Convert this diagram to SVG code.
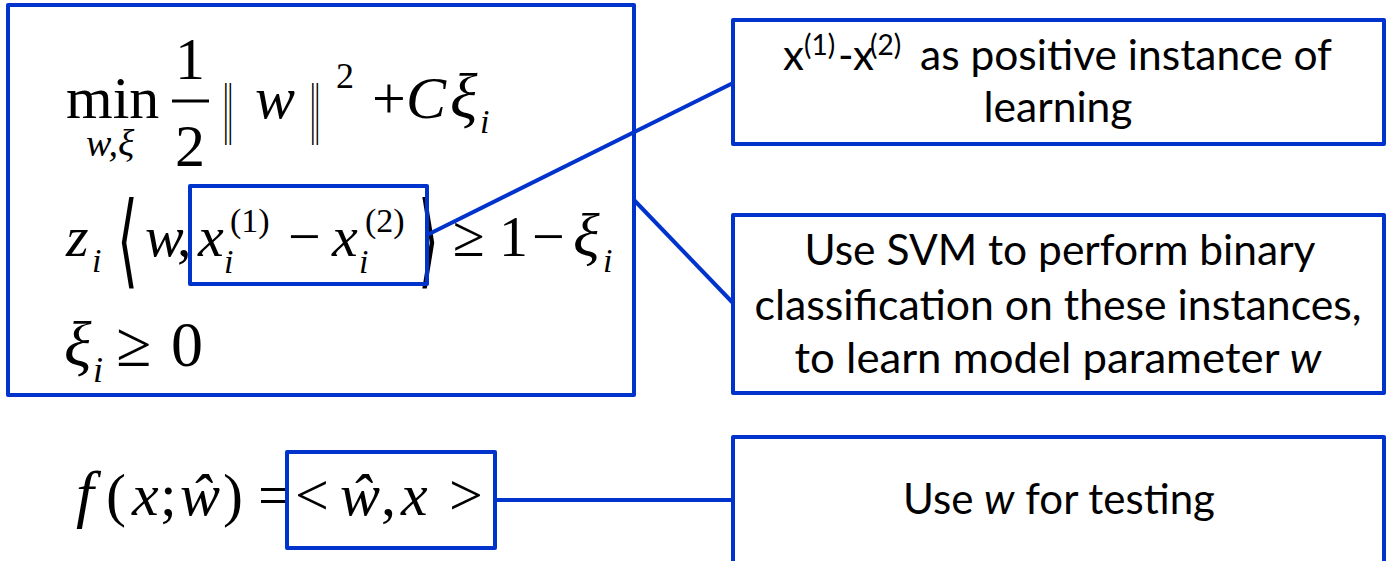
<svg xmlns="http://www.w3.org/2000/svg" width="1386" height="561" viewBox="0 0 1386 561">
  <style>
    .box { fill: none; stroke: #0033cc; stroke-width: 4; stroke-linejoin: round; }
    .link { fill: none; stroke: #0033cc; stroke-width: 4; }
    .mi { font-family: "Liberation Serif", "DejaVu Serif", serif; font-style: italic; fill: #000; }
    .mr { font-family: "Liberation Serif", "DejaVu Serif", serif; fill: #000; }
    .br { font-family: "DejaVu Sans ExtraLight", "DejaVu Sans", sans-serif; fill: #000; }
    .lbl { font-family: Lato, "Open Sans", "Liberation Sans", sans-serif; font-size: 42px; fill: #000; text-anchor: middle; }
    .lbl-s { font-family: Lato, "Open Sans", "Liberation Sans", sans-serif; font-size: 42px; fill: #000; text-anchor: start; }
  </style>

  <!-- optimisation problem -->
  <g id="svm-problem">
    <rect class="box" x="8" y="5" width="626" height="390"/>
    <!-- objective -->
    <g font-size="60">
      <text class="mr" x="66" y="118">min</text>
      <text class="mi" x="86" y="156" font-size="38">w,ξ</text>
      <text class="mr" x="190" y="79" text-anchor="middle">1</text>
      <line x1="172" y1="101" x2="209" y2="101" stroke="#000" stroke-width="3"/>
      <text class="mr" x="190" y="166" text-anchor="middle">2</text>
      <!-- norm bars, narrowed so the pair reads as a double bar -->
      <text class="mr" transform="translate(223 131) scale(0.5 1.2)" font-size="56" letter-spacing="-2">||</text>
      <text class="mi" x="255" y="118">w</text>
      <text class="mr" transform="translate(310 131) scale(0.5 1.2)" font-size="56" letter-spacing="-2">||</text>
      <text class="mr" x="336" y="88" font-size="36">2</text>
      <text class="mr" x="372" y="118">+</text>
      <text class="mi" x="406" y="118">C</text>
      <text class="mi" x="450" y="118" font-size="64">ξ</text>
      <text class="mi" x="480" y="133" font-size="34">i</text>
    </g>
    <!-- margin constraint -->
    <g font-size="58">
      <text class="mi" x="66" y="256">z</text>
      <text class="mi" x="92" y="272" font-size="34">i</text>
      <text class="br" transform="translate(117 275) scale(1 1.9)" font-size="54">⟨</text>
      <text class="mi" x="145" y="256">w</text>
      <text class="mr" x="177" y="256">,</text>
      <text class="mi" x="198" y="256">x</text>
      <text class="mr" x="230" y="232" font-size="34">(1)</text>
      <text class="mi" x="224" y="273" font-size="34">i</text>
      <text class="mr" x="288" y="256">−</text>
      <text class="mi" x="332" y="256">x</text>
      <text class="mr" x="365" y="232" font-size="34">(2)</text>
      <text class="mi" x="359" y="273" font-size="34">i</text>
      <text class="br" transform="translate(418 275) scale(1 1.9)" font-size="54">⟩</text>
      <text class="mr" x="453" y="256">≥</text>
      <text class="mr" x="499" y="256">1</text>
      <text class="mr" x="532" y="256">−</text>
      <text class="mi" x="573" y="256" font-size="62">ξ</text>
      <text class="mi" x="603" y="272" font-size="34">i</text>
    </g>
    <!-- slack constraint -->
    <g font-size="64">
      <text class="mi" x="64" y="366">ξ</text>
      <text class="mi" x="93" y="382" font-size="36">i</text>
      <text class="mr" x="116" y="366">≥</text>
      <text class="mr" x="171" y="366">0</text>
    </g>
    <!-- highlighted difference vector -->
    <rect class="box" x="190" y="186" width="237" height="98"/>
  </g>

  <!-- decision function -->
  <g id="decision-function" font-size="60">
    <text class="mi" x="76" y="515" font-size="64">f</text>
    <text class="mr" x="106" y="515">(</text>
    <text class="mi" x="132" y="515">x</text>
    <text class="mr" x="160" y="515">;</text>
    <text class="mi" x="180" y="515">ŵ</text>
    <text class="mr" x="223" y="515">)</text>
    <text class="mr" x="258" y="515">=</text>
    <text class="mr" x="295" y="515">&lt;</text>
    <text class="mi" x="340" y="515">ŵ</text>
    <text class="mr" x="381" y="515">,</text>
    <text class="mi" x="401" y="515">x</text>
    <text class="mr" x="449" y="515">&gt;</text>
    <rect class="box" x="287" y="452" width="208" height="96"/>
  </g>

  <!-- explanation boxes -->
  <g id="positive-instance">
    <rect class="box" x="733" y="20" width="651" height="124"/>
    <text class="lbl-s" y="70"><tspan x="783">x</tspan><tspan x="804" y="55" font-size="28">(1)</tspan><tspan x="838" y="70">-x</tspan><tspan x="870" y="55" font-size="28">(2)</tspan></text>
    <text class="lbl" x="1126" y="70" textLength="412" lengthAdjust="spacingAndGlyphs">as positive instance of</text>
    <text class="lbl" x="1058" y="122" textLength="149" lengthAdjust="spacingAndGlyphs">learning</text>
  </g>

  <g id="svm-training">
    <rect class="box" x="733" y="215" width="651" height="178"/>
    <text class="lbl" x="1060" y="265" textLength="511" lengthAdjust="spacingAndGlyphs">Use SVM to perform binary</text>
    <text class="lbl" x="1058" y="320" textLength="607" lengthAdjust="spacingAndGlyphs">classification on these instances,</text>
    <text class="lbl" x="1058" y="373" textLength="527" lengthAdjust="spacingAndGlyphs">to learn model parameter <tspan font-style="italic">w</tspan></text>
  </g>

  <g id="testing">
    <rect class="box" x="733" y="437" width="651" height="140"/>
    <text class="lbl" x="1059" y="514" textLength="312" lengthAdjust="spacingAndGlyphs">Use <tspan font-style="italic">w</tspan> for testing</text>
  </g>

  <!-- connectors -->
  <g id="connectors">
    <line class="link" x1="427" y1="235" x2="733" y2="83"/>
    <line class="link" x1="634" y1="200" x2="733" y2="303"/>
    <line class="link" x1="495" y1="500" x2="733" y2="500"/>
  </g>
</svg>
